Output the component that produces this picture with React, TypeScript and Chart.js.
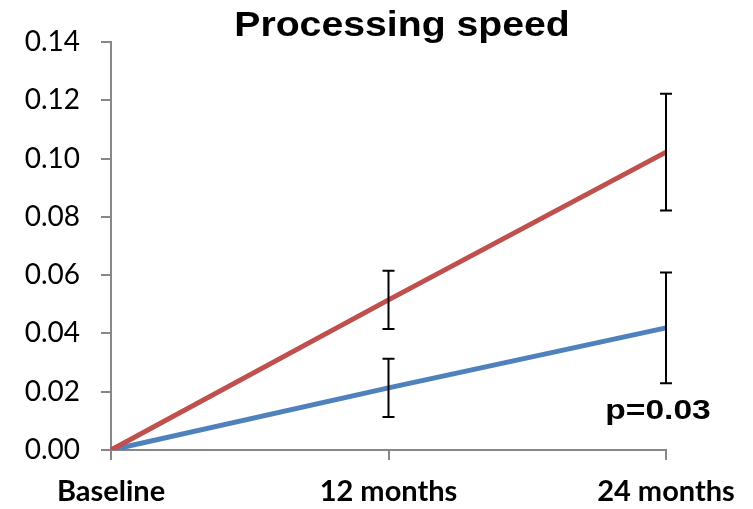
import React, { useEffect, useRef } from "react";
import { Chart, registerables } from "chart.js";

Chart.register(...registerables);

const categories = ["Baseline", "12 months", "24 months"];
const redValues = [0, 0.0515, 0.1022];
const redErrors = [0, 0.01, 0.02];
const blueValues = [0, 0.0213, 0.0419];
const blueErrors = [0, 0.01, 0.019];
const yTicks = [0, 0.02, 0.04, 0.06, 0.08, 0.1, 0.12, 0.14];
const titleText = "Processing speed";
const pText = "p=0.03";
const pValueY = 0.0105;

const errorBarPlugin = {
  id: "errorBars",
  afterDatasetsDraw(chart: any) {
    const { ctx, scales } = chart;
    const x = scales.x;
    const y = scales.y;
    const sets = [
      { v: redValues, e: redErrors },
      { v: blueValues, e: blueErrors },
    ];
    ctx.save();
    ctx.strokeStyle = "#000000";
    ctx.lineWidth = 2;
    sets.forEach((s) => {
      s.v.forEach((val, i) => {
        const err = s.e[i];
        if (!err) return;
        const px = x.getPixelForValue(i);
        const top = y.getPixelForValue(val + err);
        const bot = y.getPixelForValue(val - err);
        ctx.beginPath();
        ctx.moveTo(px, top);
        ctx.lineTo(px, bot);
        ctx.moveTo(px - 6, top);
        ctx.lineTo(px + 6, top);
        ctx.moveTo(px - 6, bot);
        ctx.lineTo(px + 6, bot);
        ctx.stroke();
      });
    });
    ctx.restore();
  },
};

const textPlugin = {
  id: "texts",
  afterDraw(chart: any) {
    const { ctx, scales } = chart;
    ctx.save();
    ctx.fillStyle = "#000000";
    ctx.textAlign = "center";
    ctx.textBaseline = "alphabetic";
    // title
    ctx.save();
    ctx.font = "bold 35px 'Liberation Sans', Arial, sans-serif";
    ctx.translate(402, 36);
    ctx.scale(1.12, 1);
    ctx.fillText(titleText, 0, 0);
    ctx.restore();
    // p value
    ctx.save();
    ctx.font = "bold 28px 'Liberation Sans', Arial, sans-serif";
    const px = scales.x.getPixelForValue(categories.length - 1) - 8;
    const py = scales.y.getPixelForValue(pValueY);
    ctx.translate(px, py);
    ctx.scale(1.2, 1);
    ctx.fillText(pText, 0, 0);
    ctx.restore();
    ctx.restore();
  },
};

export default function App() {
  const ref = useRef<HTMLCanvasElement | null>(null);
  useEffect(() => {
    if (!ref.current) return;
    const chart = new Chart(ref.current, {
      type: "line",
      data: {
        labels: categories,
        datasets: [
          {
            data: redValues,
            borderColor: "#C0504D",
            borderWidth: 5,
            pointRadius: 0,
            tension: 0,
          },
          {
            data: blueValues,
            borderColor: "#4F81BD",
            borderWidth: 5,
            pointRadius: 0,
            tension: 0,
          },
        ],
      },
      options: {
        responsive: false,
        animation: false,
        layout: { padding: { top: 42, right: 87, bottom: 0, left: 0 } },
        plugins: {
          legend: { display: false },
          title: { display: false },
          tooltip: { enabled: false },
        },
        scales: {
          x: {
            offset: false,
            grid: {
              drawOnChartArea: false,
              drawTicks: true,
              tickLength: 10,
              color: "#878787",
              lineWidth: 2,
            },
            border: { color: "#878787", width: 2 },
            ticks: {
              color: "#000000",
              padding: 14,
              maxRotation: 0,
              font: { family: "Lato, 'Open Sans', sans-serif", size: 29, weight: "bold" },
            },
            afterFit: (s: any) => {
              s.height = 59;
            },
          },
          y: {
            min: 0,
            max: 0.14,
            afterBuildTicks: (s: any) => {
              s.ticks = yTicks.map((v) => ({ value: v }));
            },
            grid: {
              drawOnChartArea: false,
              drawTicks: true,
              tickLength: 10,
              color: "#878787",
              lineWidth: 2,
            },
            border: { color: "#878787", width: 2 },
            ticks: {
              color: "#000000",
              padding: 21,
              callback: (v: any) => Number(v).toFixed(2),
              font: { family: "Lato, 'Open Sans', sans-serif", size: 28 },
            },
            afterFit: (s: any) => {
              s.width = 111;
            },
          },
        },
      },
      plugins: [errorBarPlugin, textPlugin],
    });
    return () => chart.destroy();
  }, []);
  return (
    <div style={{ position: "absolute", left: 0, top: 0, width: 753, height: 509, background: "#ffffff" }}>
      <canvas ref={ref} width={753} height={509} style={{ display: "block" }} />
    </div>
  );
}
